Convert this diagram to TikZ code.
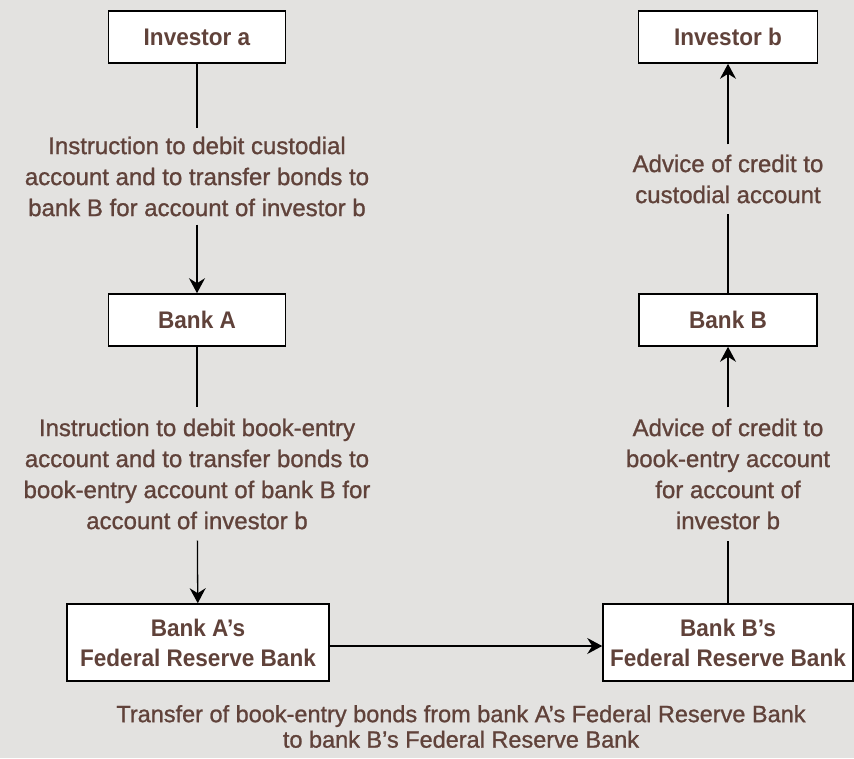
\documentclass[tikz,border=0pt]{standalone}
\usepackage{fontspec}
\setmainfont{Liberation Sans}
\newfontfamily\boxfont[FakeStretch=0.94]{Liberation Sans}
\newfontfamily\labfont[FakeBold=1.0]{Liberation Sans}
\usetikzlibrary{arrows.meta}
\definecolor{bg}{RGB}{227,226,224}
\definecolor{txt}{RGB}{96,66,58}
\begin{document}
\begin{tikzpicture}[x=1pt,y=-1pt,
  box/.style={draw=black, line width=1.6pt, fill=white, text=txt,
    font=\boxfont\bfseries\fontsize{24}{30}\selectfont, align=center,
    inner sep=0pt, minimum height=52pt},
  lab/.style={text=txt, font=\labfont\fontsize{24}{31}\selectfont, align=center,
    inner xsep=0pt},
  conn/.style={line width=1.3pt, draw=black},
  arr/.style={conn, -{Stealth[length=15pt,width=16pt,inset=5pt]}}
]
\fill[bg] (0,0) rectangle (854,758);
\useasboundingbox (0,0) rectangle (854,758);

% boxes
\node[box, minimum width=177pt] (inva) at (197,37) {Investor a};
\node[box, minimum width=179pt] (invb) at (728,37) {Investor b};
\node[box, minimum width=177pt] (banka) at (197,320) {Bank A};
\node[box, minimum width=178pt] (bankb) at (728,320) {Bank B};
\node[box, minimum width=262pt, minimum height=77pt] (frba) at (198,642.5) {Bank A’s\\Federal Reserve Bank};
\node[box, minimum width=250pt, minimum height=77pt] (frbb) at (728,642.5) {Bank B’s\\Federal Reserve Bank};

% labels
\node[lab, inner ysep=8pt] (lab1) at (197,176.5) {Instruction to debit custodial\\account and to transfer bonds to\\bank B for account of investor b};
\node[lab, inner ysep=11pt] (lab2) at (197,474) {Instruction to debit book-entry\\account and to transfer bonds to\\book-entry account of bank B for\\account of investor b};
\node[lab, inner ysep=11pt] (lab3) at (728,474) {Advice of credit to\\book-entry account\\for account of\\investor b};
\node[lab, inner ysep=10pt] (lab4) at (728,179) {Advice of credit to\\custodial account};
\node[lab, font=\labfont\fontsize{23.5}{25.5}\selectfont] (lab5) at (461,726.5) {Transfer of book-entry bonds from bank A’s Federal Reserve Bank\\to bank B’s Federal Reserve Bank};

% connectors
\draw[conn] (inva) -- (lab1);
\draw[arr] (lab1) -- (banka);
\draw[conn] (banka) -- (lab2);
\draw[arr] (lab2) -- (frba);
\draw[arr] ([yshift=-3.5pt]frba.east) -- ([yshift=-3.5pt]frbb.west);
\draw[conn] (frbb) -- (lab3);
\draw[arr] (lab3) -- (bankb);
\draw[conn] (bankb) -- (lab4);
\draw[arr] (lab4) -- (invb);
\end{tikzpicture}
\end{document}
